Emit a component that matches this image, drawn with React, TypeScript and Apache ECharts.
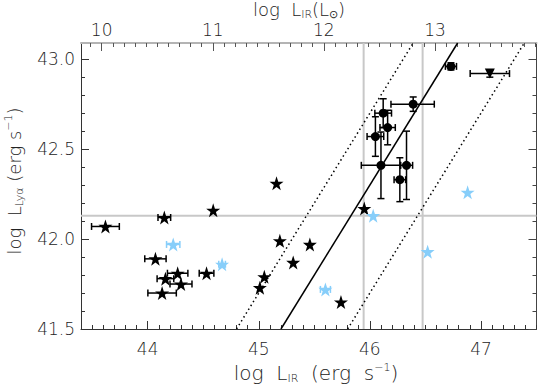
import React, { useEffect, useRef } from "react";
import * as echarts from "echarts";

// ---- axis settings ----
const X_MIN = 43.4;
const X_MAX = 47.5;
const Y_MIN = 41.5;
const Y_MAX = 43.09;
const LOG_LSUN = 33.586;
const xMajorTicks = [44, 45, 46, 47];
const topMajorTicks = [10, 11, 12, 13];
const yMajorTicks = [41.5, 42.0, 42.5, 43.0];

// ---- data ----
const blackStarX = [43.62, 44.15, 44.59, 45.16, 44.07, 44.27, 44.16, 44.3, 44.13, 44.53, 45.01, 45.05, 45.19, 45.31, 45.46, 45.74, 45.95];
const blackStarY = [42.07, 42.12, 42.16, 42.31, 41.89, 41.81, 41.78, 41.75, 41.7, 41.81, 41.73, 41.79, 41.99, 41.87, 41.97, 41.65, 42.17];
const blackStarXErr = [0.125, 0.057, 0, 0, 0.096, 0.092, 0.075, 0.099, 0.128, 0.066, 0, 0, 0, 0, 0, 0, 0];

const blueStarX = [44.23, 44.67, 45.6, 46.03, 46.52, 46.88];
const blueStarY = [41.97, 41.86, 41.72, 42.13, 41.93, 42.26];
const blueStarXErr = [0.06, 0.03, 0.045, 0, 0, 0];

const circleX = [46.73, 46.39, 46.12, 46.16, 46.05, 46.1, 46.33, 46.27];
const circleY = [42.96, 42.75, 42.7, 42.62, 42.57, 42.41, 42.41, 42.33];
const circleXErrLo = [0.05, 0.2, 0.075, 0.069, 0.075, 0.177, 0.055, 0.052];
const circleXErrHi = [0.05, 0.19, 0.075, 0.069, 0.075, 0.177, 0.055, 0.052];
const circleYErr = [0.02, 0.04, 0.08, 0.096, 0.11, 0.185, 0.19, 0.122];

const limitX = [47.08];
const limitY = [42.92];
const limitXErr = [0.177];
const limitYErr = [0.02];

// relation lines (endpoints)
const fitLine = [[45.2, 41.5], [46.79, 43.09]];
const upperLine = [[44.8, 41.5], [46.39, 43.09]];
const lowerLine = [[45.8, 41.5], [47.39, 43.09]];
const vGuideX = [45.944, 46.475];
const hGuideY = [42.13];

const FONT = "DejaVu Sans";
const STAR = "path://M50,0 L61.8,35.1 L98.1,35.1 L68.8,56.8 L79.4,91 L50,70 L20.6,91 L31.2,56.8 L1.9,35.1 L38.2,35.1 Z";

function steps(a: number, b: number, d: number) {
  const out: number[] = [];
  const n = Math.round((b - a) / d);
  for (let i = 0; i <= n; i++) out.push(Math.round((a + i * d) * 1000) / 1000);
  return out;
}

export default function App() {
  const ref = useRef<HTMLDivElement>(null);
  useEffect(() => {
    if (!ref.current) return;
    const chart = echarts.init(ref.current, undefined, { renderer: "svg" });

    const xMinor = steps(43.4, 47.5, 0.1);
    const topMinor = steps(9.9, 13.9, 0.1);
    const yMinor = steps(41.5, 43.0, 0.1);

    const errRender = (color: string) => (params: any, api: any) => {
      const x = api.value(0), y = api.value(1);
      const xl = api.value(2), xh = api.value(3), yl = api.value(4), yh = api.value(5);
      const style = { stroke: color, lineWidth: 1.5 };
      const children: any[] = [];
      const cap = 3.5;
      if (xh > xl) {
        const a = api.coord([xl, y]);
        const b = api.coord([xh, y]);
        children.push({ type: "line", shape: { x1: a[0], y1: a[1], x2: b[0], y2: b[1] }, style });
        children.push({ type: "line", shape: { x1: a[0], y1: a[1] - cap, x2: a[0], y2: a[1] + cap }, style });
        children.push({ type: "line", shape: { x1: b[0], y1: b[1] - cap, x2: b[0], y2: b[1] + cap }, style });
      }
      if (yh > yl) {
        const a = api.coord([x, yl]);
        const b = api.coord([x, yh]);
        children.push({ type: "line", shape: { x1: a[0], y1: a[1], x2: b[0], y2: b[1] }, style });
        children.push({ type: "line", shape: { x1: a[0] - cap, y1: a[1], x2: a[0] + cap, y2: a[1] }, style });
        children.push({ type: "line", shape: { x1: b[0] - cap, y1: b[1], x2: b[0] + cap, y2: b[1] }, style });
      }
      return { type: "group", children };
    };

    const blackErr = [
      ...blackStarX.map((x, i) => [x, blackStarY[i], x - blackStarXErr[i], x + blackStarXErr[i], blackStarY[i], blackStarY[i]]),
      ...circleX.map((x, i) => [x, circleY[i], x - circleXErrLo[i], x + circleXErrHi[i], circleY[i] - circleYErr[i], circleY[i] + circleYErr[i]]),
      ...limitX.map((x, i) => [x, limitY[i], x - limitXErr[i], x + limitXErr[i], limitY[i] - limitYErr[i], limitY[i] + limitYErr[i]]),
    ];
    const blueErr = blueStarX.map((x, i) => [x, blueStarY[i], x - blueStarXErr[i], x + blueStarXErr[i], blueStarY[i], blueStarY[i]]);

    const axisTextStyle = { fontFamily: FONT, fontSize: 17, fontWeight: 200, color: "#222" };
    const base = { type: "value" as const, splitLine: { show: false }, scale: true };

    const xAxes: any[] = [
      { ...base, position: "bottom", min: X_MIN, max: X_MAX,
        axisLine: { lineStyle: { color: "#333", width: 1 } },
        axisTick: { inside: true, length: 4, customValues: xMinor, lineStyle: { color: "#333" } },
        axisLabel: { ...axisTextStyle, margin: 11, customValues: xMajorTicks, formatter: (v: number) => String(Math.round(v)) } },
      { ...base, position: "bottom", min: X_MIN, max: X_MAX,
        axisLine: { show: false },
        axisTick: { inside: true, length: 8, customValues: xMajorTicks, lineStyle: { color: "#333" } },
        axisLabel: { show: false } },
      { ...base, position: "top", min: X_MIN - LOG_LSUN, max: X_MAX - LOG_LSUN,
        axisLine: { lineStyle: { color: "#b4b4b4", width: 2 } },
        axisTick: { inside: true, length: 4, customValues: topMinor, lineStyle: { color: "#555" } },
        axisLabel: { ...axisTextStyle, margin: 5, customValues: topMajorTicks, formatter: (v: number) => String(Math.round(v)) } },
      { ...base, position: "top", min: X_MIN - LOG_LSUN, max: X_MAX - LOG_LSUN,
        axisLine: { show: false },
        axisTick: { inside: true, length: 8, customValues: topMajorTicks, lineStyle: { color: "#555" } },
        axisLabel: { show: false } },
    ];
    const yAxes: any[] = [
      { ...base, position: "left", min: Y_MIN, max: Y_MAX,
        axisLine: { lineStyle: { color: "#333", width: 1 } },
        axisTick: { inside: true, length: 4, customValues: yMinor, lineStyle: { color: "#333" } },
        axisLabel: { ...axisTextStyle, margin: 6, customValues: yMajorTicks, formatter: (v: number) => v.toFixed(1) } },
      { ...base, position: "left", min: Y_MIN, max: Y_MAX,
        axisLine: { show: false },
        axisTick: { inside: true, length: 8, customValues: yMajorTicks, lineStyle: { color: "#333" } },
        axisLabel: { show: false } },
      { ...base, position: "right", min: Y_MIN, max: Y_MAX,
        axisLine: { lineStyle: { color: "#444", width: 1 } },
        axisTick: { inside: true, length: 4, customValues: yMinor, lineStyle: { color: "#444" } },
        axisLabel: { show: false } },
      { ...base, position: "right", min: Y_MIN, max: Y_MAX,
        axisLine: { show: false },
        axisTick: { inside: true, length: 8, customValues: yMajorTicks, lineStyle: { color: "#444" } },
        axisLabel: { show: false } },
    ];

    const gray = { color: "#c8c8c8", width: 2 };
    const guideSeries: any[] = [
      ...vGuideX.map((x) => ({ type: "line", data: [[x, Y_MIN], [x, Y_MAX]], symbol: "none", lineStyle: gray, z: 1, silent: true })),
      ...hGuideY.map((y) => ({ type: "line", data: [[X_MIN, y], [X_MAX, y]], symbol: "none", lineStyle: gray, z: 1, silent: true })),
    ];

    const mk = (size: number) => {
      const main = { fontFamily: FONT, fontSize: size, fontWeight: 200, fill: "#222", lineHeight: 22 };
      const sub = { fontFamily: FONT, fontSize: 11, fontWeight: 200, fill: "#222", lineHeight: 11, verticalAlign: "bottom" };
      const sup = { fontFamily: FONT, fontSize: 11, fontWeight: 200, fill: "#222", lineHeight: 9, verticalAlign: "top" };
      return { t: main, s: sub, p: sup };
    };

    const solid = (c: string) => ({ color: c, opacity: 1 });

    chart.setOption({
      animation: false,
      grid: { left: 81, right: 1.5, top: 43, bottom: 56, containLabel: false },
      xAxis: xAxes,
      yAxis: yAxes,
      graphic: [
        { type: "text", x: 316, y: 373, style: { text: "{t|log  L}{s|IR}{t|  (erg  s}{p|−1}{t|)}", rich: mk(20), align: "center", verticalAlign: "middle" } },
        { type: "text", x: 299, y: 9, style: { text: "{t|log  L}{s|IR}{t|(L}{s|⊙}{t|)}", rich: mk(18), align: "center", verticalAlign: "middle" } },
        { type: "text", x: 14, y: 181, rotation: Math.PI / 2, style: { text: "{t|log  L}{s|Lyα}{t| (erg s}{p|−1}{t|)}", rich: mk(18), align: "center", verticalAlign: "middle" } },
      ],
      series: [
        ...guideSeries,
        { type: "line", data: fitLine, symbol: "none", lineStyle: { color: "#000", width: 1.5 }, z: 2, silent: true },
        { type: "line", data: upperLine, symbol: "none", lineStyle: { color: "#000", width: 1.5, type: [1.5, 3] }, z: 2, silent: true },
        { type: "line", data: lowerLine, symbol: "none", lineStyle: { color: "#000", width: 1.5, type: [1.5, 3] }, z: 2, silent: true },
        { type: "custom", data: blackErr, renderItem: errRender("#000"), encode: { x: 0, y: 1 }, z: 3, silent: true },
        { type: "custom", data: blueErr, renderItem: errRender("#87cefa"), encode: { x: 0, y: 1 }, z: 3, silent: true },
        { type: "scatter", data: blackStarX.map((x, i) => [x, blackStarY[i]]), symbol: STAR, symbolSize: 14, itemStyle: solid("#000"), z: 4 },
        { type: "scatter", data: blueStarX.map((x, i) => [x, blueStarY[i]]), symbol: STAR, symbolSize: 14, itemStyle: solid("#87cefa"), z: 4 },
        { type: "scatter", data: circleX.map((x, i) => [x, circleY[i]]), symbol: "circle", symbolSize: 9, itemStyle: solid("#000"), z: 4 },
        { type: "scatter", data: limitX.map((x, i) => [x, limitY[i]]), symbol: "triangle", symbolRotate: 180, symbolSize: 10, itemStyle: solid("#000"), z: 4 },
      ],
    });
    return () => chart.dispose();
  }, []);
  return <div ref={ref} style={{ width: 538, height: 385, position: "absolute", left: 0, top: 0 }} />;
}
